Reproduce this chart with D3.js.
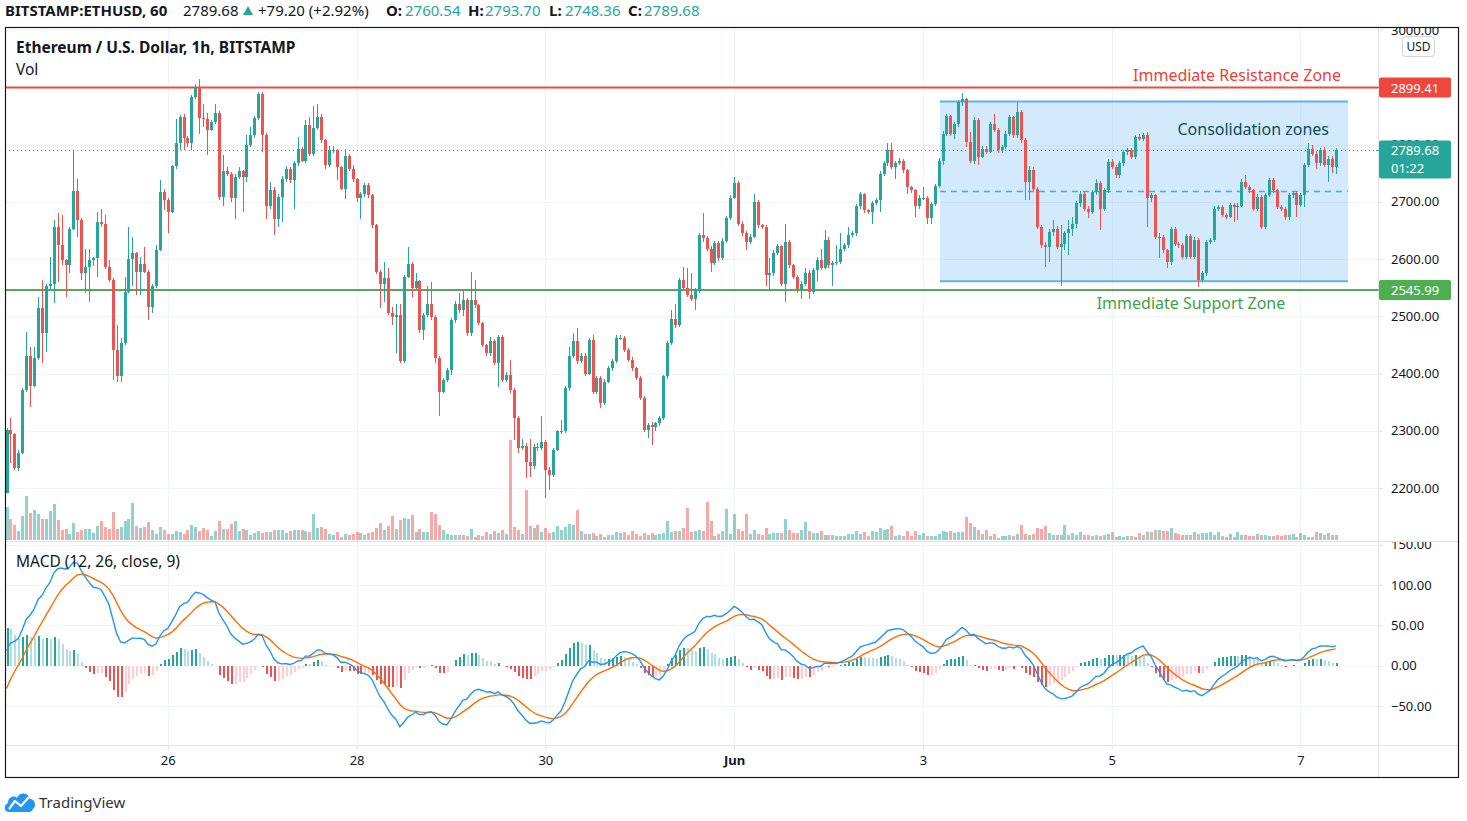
<!DOCTYPE html>
<html>
<head>
<meta charset="utf-8">
<script src="https://cdn.jsdelivr.net/npm/d3@7"></script>
<style>
  body { margin: 0; background: #fff; }
  text { font-family: "Noto Sans", sans-serif; }
</style>
</head>
<body>
<div id="chart"></div>
<script>
// ---- data ----
const symbol = "BITSTAMP:ETHUSD, 60";
const title = "Ethereum / U.S. Dollar, 1h, BITSTAMP";
const dayChange = "+79.20 (+2.92%)";
const startTime = Date.UTC(2021, 4, 24, 7);   // first hourly candle
const firstOpen = 2192;

const closes = [
  2302,2295,2235,2262,2371,2430,2378,2427,2514,2470,
  2552,2556,2656,2624,2598,2589,2652,2718,2668,2575,
  2586,2598,2601,2665,2661,2586,2563,2441,2395,2453,
  2543,2600,2611,2578,2591,2578,2517,2553,2616,2717,
  2703,2682,2762,2802,2848,2812,2802,2883,2900,2847,
  2845,2826,2839,2855,2709,2754,2749,2706,2743,2754,
  2743,2799,2816,2846,2889,2817,2692,2720,2669,2709,
  2739,2758,2738,2767,2793,2772,2834,2784,2829,2848,
  2807,2764,2790,2791,2761,2723,2780,2758,2739,2706,
  2713,2729,2711,2659,2578,2556,2566,2506,2499,2502,
  2421,2569,2592,2549,2561,2476,2502,2522,2499,2427,
  2368,2389,2406,2493,2522,2511,2528,2470,2528,2520,
  2488,2450,2435,2456,2418,2464,2389,2398,2371,2322,
  2270,2274,2246,2238,2272,2270,2281,2232,2223,2267,
  2299,2299,2374,2430,2456,2421,2430,2400,2459,2368,
  2392,2348,2386,2409,2421,2462,2462,2441,2424,2409,
  2392,2357,2302,2310,2307,2313,2322,2395,2453,2496,
  2485,2563,2549,2537,2531,2546,2642,2636,2618,2593,
  2628,2601,2632,2671,2707,2732,2662,2645,2630,2639,
  2700,2659,2656,2572,2575,2611,2622,2557,2630,2589,
  2569,2545,2557,2576,2543,2580,2599,2585,2634,2589,
  2593,2595,2618,2624,2642,2645,2692,2713,2685,2682,
  2698,2703,2749,2767,2790,2761,2768,2772,2755,2725,
  2720,2692,2707,2707,2671,2696,2727,2772,
  2819,2849,2819,2836,2874,2880,2804,2772,2843,2779,
  2793,2787,2836,2825,2790,2796,2819,2848,2816,2857,
  2807,2735,2755,2723,2656,2624,2621,2648,2653,2621,
  2627,2645,2653,2662,2697,2714,2688,2682,2717,2732,
  2688,2720,2770,2761,2746,2767,2787,2790,2778,2813,
  2810,2816,2706,2711,2639,2639,2615,2595,2652,2627,
  2624,2604,2640,2604,2634,2563,2575,2630,2633,2688,
  2691,2677,2674,2694,2691,2692,2735,2726,2720,2688,
  2709,2656,2711,2738,2720,2691,2688,2674,2711,2715,
  2694,2711,2764,2793,2784,2767,2790,2764,2775,2760.54,
  2789.68
];

const highs = [
  2305,2322,2296,2266,2374,2473,2447,2447,2534,2563,
  2556,2604,2668,2680,2677,2600,2656,2790,2740,2672,
  2618,2618,2604,2682,2688,2677,2598,2566,2485,2462,
  2569,2656,2639,2613,2604,2621,2580,2556,2624,2738,
  2723,2706,2765,2845,2851,2854,2815,2886,2906,2915,
  2871,2855,2842,2871,2858,2781,2760,2752,2748,2760,
  2756,2816,2831,2850,2892,2892,2820,2735,2725,2714,
  2745,2762,2760,2772,2813,2796,2843,2848,2868,2871,
  2854,2810,2798,2797,2793,2763,2793,2784,2764,2742,
  2717,2733,2732,2713,2662,2580,2594,2584,2516,2522,
  2522,2572,2621,2594,2575,2564,2506,2552,2560,2502,
  2430,2392,2410,2497,2526,2540,2546,2532,2578,2563,
  2522,2490,2452,2464,2460,2468,2467,2402,2424,2374,
  2325,2286,2278,2286,2276,2278,2325,2284,2236,2270,
  2302,2319,2378,2447,2470,2479,2435,2436,2462,2467,
  2396,2395,2390,2413,2425,2467,2468,2465,2444,2428,
  2411,2395,2360,2313,2316,2316,2326,2398,2457,2511,
  2522,2566,2586,2584,2575,2550,2646,2680,2640,2622,
  2632,2632,2636,2675,2711,2743,2736,2666,2649,2643,
  2714,2703,2662,2660,2601,2615,2626,2625,2662,2634,
  2592,2572,2561,2584,2580,2584,2603,2618,2650,2638,
  2597,2625,2645,2628,2656,2649,2696,2717,2716,2688,
  2702,2707,2753,2771,2802,2802,2772,2776,2775,2758,
  2728,2723,2711,2726,2710,2700,2731,2776,
  2823,2854,2851,2840,2878,2890,2882,2822,2848,2846,
  2797,2797,2840,2854,2828,2800,2823,2852,2850,2874,
  2860,2812,2762,2760,2726,2660,2630,2652,2668,2657,
  2659,2649,2668,2674,2701,2718,2718,2692,2721,2740,
  2736,2724,2774,2774,2765,2771,2791,2794,2794,2817,
  2819,2820,2822,2715,2714,2645,2642,2618,2656,2656,
  2630,2628,2644,2644,2638,2637,2579,2634,2637,2692,
  2695,2694,2680,2698,2698,2698,2739,2746,2729,2723,
  2713,2712,2715,2742,2741,2723,2694,2691,2715,2719,
  2718,2715,2768,2802,2800,2788,2794,2795,2780,2780,
  2793.70
];

const lows = [
  2191,2243,2232,2229,2260,2368,2342,2376,2424,2418,
  2438,2548,2523,2560,2590,2534,2575,2650,2639,2563,
  2540,2525,2588,2569,2656,2583,2560,2389,2386,2386,
  2450,2540,2552,2537,2537,2575,2493,2505,2550,2614,
  2685,2646,2680,2758,2790,2790,2795,2790,2880,2819,
  2830,2781,2824,2836,2703,2692,2745,2700,2669,2740,
  2682,2735,2795,2812,2843,2787,2669,2688,2642,2656,
  2665,2735,2733,2688,2762,2769,2768,2780,2780,2825,
  2802,2758,2760,2786,2738,2720,2704,2754,2735,2700,
  2669,2708,2706,2655,2573,2514,2525,2503,2485,2436,
  2418,2418,2566,2534,2545,2470,2459,2498,2494,2418,
  2326,2366,2386,2398,2488,2506,2500,2465,2466,2515,
  2484,2446,2430,2430,2414,2377,2385,2386,2366,2284,
  2262,2266,2217,2220,2234,2265,2266,2182,2197,2220,
  2265,2294,2296,2370,2427,2416,2418,2396,2398,2364,
  2365,2339,2345,2383,2405,2418,2458,2437,2420,2405,
  2388,2354,2298,2287,2275,2300,2308,2318,2390,2450,
  2480,2482,2545,2533,2527,2511,2540,2630,2614,2578,
  2590,2597,2598,2628,2668,2704,2658,2641,2616,2626,
  2636,2655,2652,2552,2548,2570,2607,2553,2525,2585,
  2565,2541,2531,2553,2531,2539,2561,2581,2582,2585,
  2552,2590,2592,2614,2620,2638,2641,2688,2681,2678,
  2662,2694,2682,2745,2763,2757,2740,2765,2751,2714,
  2716,2674,2688,2703,2662,2662,2692,2724,
  2765,2815,2815,2810,2830,2868,2795,2768,2766,2764,
  2776,2783,2785,2821,2786,2786,2793,2815,2812,2812,
  2803,2703,2703,2719,2652,2620,2586,2595,2640,2617,
  2552,2615,2607,2640,2655,2690,2684,2671,2678,2712,
  2650,2684,2716,2757,2742,2742,2762,2782,2774,2774,
  2806,2806,2656,2700,2635,2601,2611,2584,2590,2623,
  2620,2600,2600,2600,2600,2551,2560,2570,2626,2630,
  2684,2673,2670,2672,2665,2668,2690,2722,2716,2684,
  2684,2653,2653,2708,2716,2687,2684,2668,2668,2706,
  2674,2690,2690,2760,2780,2758,2763,2760,2735,2750,
  2748.36
];

// hourly volume (hundreds of ETH)
const volumes = [
  33,21,15,9,24,44,27,30,26,21, 21,29,36,20,10,11,6,17,8,10,
  11,11,7,14,19,13,11,28,11,13, 19,21,37,14,12,13,18,10,6,13,
  10,6,6,9,8,6,10,15,13,9, 12,10,4,9,19,11,11,16,19,9,
  11,10,5,7,9,7,8,8,10,10, 10,7,9,10,10,10,9,8,26,12,
  13,11,6,5,8,3,6,5,6,8, 7,5,7,8,12,17,10,14,24,11,
  20,22,21,25,8,11,8,8,28,26, 15,10,6,5,5,5,5,4,11,3,
  5,4,8,6,9,7,10,6,100,13, 10,6,50,14,12,15,8,12,7,8,
  14,10,13,16,15,30,9,6,6,7, 4,6,3,5,5,8,7,8,5,9,
  6,4,7,5,7,5,6,7,19,8, 9,9,
  12,32,8,9,10,9,38,19,4,6, 9,31,6,26,11,9,26,6,10,6,
  5,12,6,7,7,7,21,10,7,7, 10,18,9,7,7,9,5,5,5,4,
  4,4,6,6,9,6,8,4,9,8, 12,10,11,14,4,5,4,9,4,9,
  5,7,4,4,4,6,9,8,9,7, 8,8,23,17,13,10,6,10,4,6,
  2,4,4,5,4,6,15,6,5,6, 12,11,14,7,5,5,5,15,5,7,
  5,8,5,5,4,5,4,5,6,8, 3,4,3,4,4,3,7,5,8,8,
  10,10,9,9,12,7,6,5,5,5, 8,6,7,7,8,5,8,4,3,6,
  3,8,5,5,4,4,6,5,5,4, 4,5,4,5,5,6,3,7,5,3,
  3,8,7,5,7,5,5
];

const dayTicks = ["2021-05-26", "2021-05-28", "2021-05-30", "2021-06-01", "2021-06-03", "2021-06-05", "2021-06-07"];
const dayLabels = ["26", "28", "30", "Jun", "3", "5", "7"];
const priceTicks = [2200, 2300, 2400, 2500, 2600, 2700, 2800, 3000];
const macdTicks = [-50, 0, 50, 100, 150];

const resistance = 2899.41;
const support = 2545.99;
const countdown = "01:22";
const boxStart = "2021-06-03T04:20Z";
const boxEnd = "2021-06-07T12:06Z";
const boxTop = 2875;
const boxBottom = 2561;
// EMA state just before the first visible candle
const macdSeed = { ema12: 2136, ema26: 2130, signal: -40 };

// ---- layout ----
const W = 1467, H = 821;
const L = 5, R = 1378, FR = 1459;
const mainTop = 27, mainBot = 541, macdTop = 542, macdBot = 745, axisBot = 778;
const up = "#26a69a", down = "#ef5350";
const gridCol = "#f0f3fa", sepCol = "#e0e3eb", textCol = "#131722";

const times = closes.map((_, i) => new Date(startTime + i * 3600e3));
const opens = closes.map((c, i) => i === 0 ? firstOpen : closes[i - 1]);
const candles = closes.map((c, i) => ({ t: times[i], o: opens[i], h: highs[i], l: lows[i], c, v: volumes[i] }));

// MACD (12, 26, close, 9)
const macd = [], signal = [], hist = [];
{
  let e12 = macdSeed.ema12, e26 = macdSeed.ema26, sig = macdSeed.signal;
  closes.forEach(c => {
    e12 += (2 / 13) * (c - e12);
    e26 += (2 / 27) * (c - e26);
    const m = e12 - e26;
    sig += (2 / 10) * (m - sig);
    macd.push(m); signal.push(sig); hist.push(m - sig);
  });
}

const x = d3.scaleUtc()
  .domain([new Date(dayTicks[0]), new Date(dayTicks[dayTicks.length - 1])])
  .range([167.8, 1300.4]);
const y = d3.scaleLinear().domain([2200, 3000]).range([488, 30]);
const yMacd = d3.scaleLinear().domain([-50, 100]).range([706, 585]);
const yVol = d3.scaleLinear().domain([0, d3.max(volumes)]).range([540, 440]);

const svg = d3.select("#chart").append("svg")
  .attr("width", W).attr("height", H)
  .style("display", "block");

svg.append("rect").attr("width", W).attr("height", H).attr("fill", "#fff");

const defs = svg.append("defs");
defs.append("clipPath").attr("id", "clip-main")
  .append("rect").attr("x", L).attr("y", mainTop).attr("width", R - L).attr("height", mainBot - mainTop);
defs.append("clipPath").attr("id", "clip-macd")
  .append("rect").attr("x", L).attr("y", macdTop).attr("width", R - L).attr("height", macdBot - macdTop);
defs.append("clipPath").attr("id", "clip-axis-main")
  .append("rect").attr("x", R).attr("y", mainTop).attr("width", FR - R).attr("height", mainBot - mainTop);
defs.append("clipPath").attr("id", "clip-axis-macd")
  .append("rect").attr("x", R).attr("y", macdTop).attr("width", FR - R).attr("height", macdBot - macdTop);

// grid
const grid = svg.append("g").attr("shape-rendering", "crispEdges");
grid.selectAll(".gx").data(dayTicks).join("line")
  .attr("x1", d => Math.round(x(new Date(d))) + 0.5).attr("x2", d => Math.round(x(new Date(d))) + 0.5)
  .attr("y1", mainTop).attr("y2", macdBot).attr("stroke", gridCol);
grid.selectAll(".gy").data(priceTicks).join("line")
  .attr("x1", L).attr("x2", R)
  .attr("y1", d => Math.round(y(d)) + 0.5).attr("y2", d => Math.round(y(d)) + 0.5)
  .attr("stroke", gridCol);
grid.selectAll(".gm").data(macdTicks).join("line")
  .attr("x1", L).attr("x2", R)
  .attr("y1", d => Math.round(yMacd(d)) + 0.5).attr("y2", d => Math.round(yMacd(d)) + 0.5)
  .attr("stroke", gridCol);

// ---- main pane ----
const main = svg.append("g").attr("clip-path", "url(#clip-main)");

// consolidation box
const bx0 = x(new Date(boxStart)), bx1 = x(new Date(boxEnd));
main.append("rect")
  .attr("x", bx0).attr("y", y(boxTop)).attr("width", bx1 - bx0).attr("height", y(boxBottom) - y(boxTop))
  .attr("fill", "rgba(33,150,243,0.2)");
[boxTop, boxBottom].forEach(p => {
  main.append("line").attr("x1", bx0).attr("x2", bx1).attr("y1", y(p)).attr("y2", y(p))
    .attr("stroke", "#5fb0f4").attr("stroke-width", 2);
});
main.append("line").attr("x1", bx0).attr("x2", bx1)
  .attr("y1", y((boxTop + boxBottom) / 2)).attr("y2", y((boxTop + boxBottom) / 2))
  .attr("stroke", "#42a5f5").attr("stroke-width", 1.5).attr("stroke-dasharray", "6,5");

// volume
main.append("g").attr("shape-rendering", "crispEdges")
  .selectAll("rect").data(candles).join("rect")
  .attr("x", d => Math.round(x(d.t)) - 1)
  .attr("width", 3)
  .attr("y", d => yVol(d.v))
  .attr("height", d => yVol(0) - yVol(d.v))
  .attr("fill", d => d.c >= d.o ? up : down)
  .attr("fill-opacity", 0.5);

// support / resistance
main.append("line").attr("x1", L).attr("x2", R).attr("y1", y(resistance)).attr("y2", y(resistance))
  .attr("stroke", "#ef4a3f").attr("stroke-width", 2);
main.append("line").attr("x1", L).attr("x2", R).attr("y1", y(support)).attr("y2", y(support))
  .attr("stroke", "#55a858").attr("stroke-width", 2);

// last price dotted line
const last = candles[candles.length - 1];
main.append("line").attr("x1", L).attr("x2", R)
  .attr("y1", Math.round(y(last.c)) + 0.5).attr("y2", Math.round(y(last.c)) + 0.5)
  .attr("stroke", up).attr("stroke-dasharray", "1,3");

// candles
const cg = main.append("g").attr("shape-rendering", "crispEdges");
cg.selectAll("line").data(candles).join("line")
  .attr("x1", d => Math.round(x(d.t)) + 0.5).attr("x2", d => Math.round(x(d.t)) + 0.5)
  .attr("y1", d => y(d.h)).attr("y2", d => y(d.l))
  .attr("stroke", d => d.c >= d.o ? up : down);
cg.selectAll("rect").data(candles).join("rect")
  .attr("x", d => Math.round(x(d.t)) - 1)
  .attr("width", 3)
  .attr("y", d => y(Math.max(d.o, d.c)))
  .attr("height", d => Math.max(1, Math.abs(y(d.o) - y(d.c))))
  .attr("fill", d => d.c >= d.o ? up : down);

// annotations
main.append("text").attr("x", bx1 - 7).attr("y", y(resistance) - 7)
  .attr("text-anchor", "end").attr("font-size", 16).attr("fill", "#ef3e36")
  .text("Immediate Resistance Zone");
main.append("text").attr("x", bx1 - 157).attr("y", y(support) + 19)
  .attr("text-anchor", "middle").attr("font-size", 16).attr("fill", "#43a047")
  .text("Immediate Support Zone");
main.append("text").attr("x", bx1 - 19).attr("y", y(boxTop) + 33)
  .attr("text-anchor", "end").attr("font-size", 16).attr("fill", "#0e4c5a")
  .text("Consolidation zones");

// ---- MACD pane ----
const mp = svg.append("g").attr("clip-path", "url(#clip-macd)");
mp.append("g").attr("shape-rendering", "crispEdges")
  .selectAll("rect").data(hist).join("rect")
  .attr("x", (d, i) => Math.round(x(times[i])) - 0.5)
  .attr("width", 2)
  .attr("y", d => Math.min(yMacd(d), yMacd(0)))
  .attr("height", d => Math.abs(yMacd(d) - yMacd(0)))
  .attr("fill", (d, i) => {
    const prev = i > 0 ? hist[i - 1] : d;
    if (d >= 0) return d >= prev ? "#26a69a" : "#b2dfdb";
    return d < prev ? "#ef5350" : "#ffcdd2";
  });

const lineGen = d3.line().x((d, i) => x(times[i])).y(d => yMacd(d));
mp.append("path").attr("d", lineGen(signal)).attr("fill", "none")
  .attr("stroke", "#ff6d00").attr("stroke-width", 1.4);
mp.append("path").attr("d", lineGen(macd)).attr("fill", "none")
  .attr("stroke", "#2196f3").attr("stroke-width", 1.4);

// ---- separators & frame ----
const sep = svg.append("g").attr("shape-rendering", "crispEdges").attr("stroke", sepCol);
sep.append("line").attr("x1", L).attr("x2", FR).attr("y1", mainBot + 0.5).attr("y2", mainBot + 0.5);
sep.append("line").attr("x1", L).attr("x2", FR).attr("y1", macdBot + 0.5).attr("y2", macdBot + 0.5);
sep.append("line").attr("x1", R + 0.5).attr("x2", R + 0.5).attr("y1", mainTop).attr("y2", axisBot);

// ---- axes ----
const styleAxis = g => {
  g.select(".domain").remove();
  g.selectAll(".tick line").attr("stroke", sepCol);
  g.selectAll(".tick text").attr("fill", textCol).attr("font-size", 13)
    .attr("font-family", "'Noto Sans', sans-serif");
};

svg.append("g").attr("clip-path", "url(#clip-axis-main)")
  .append("g").attr("transform", `translate(${R},0)`)
  .call(d3.axisRight(y).tickValues(priceTicks).tickSize(5).tickPadding(8).tickFormat(d3.format(".2f")))
  .call(styleAxis);

svg.append("g").attr("clip-path", "url(#clip-axis-macd)")
  .append("g").attr("transform", `translate(${R},0)`)
  .call(d3.axisRight(yMacd).tickValues(macdTicks).tickSize(5).tickPadding(8)
    .tickFormat(d => d3.format(".2f")(d).replace("-", "\u2212")))
  .call(styleAxis);

const xAxis = svg.append("g").attr("transform", `translate(0,${macdBot})`)
  .call(d3.axisBottom(x).tickValues(dayTicks.map(d => new Date(d))).tickSize(5).tickPadding(6)
    .tickFormat((d, i) => dayLabels[i]))
  .call(styleAxis);
xAxis.selectAll(".tick text")
  .attr("font-weight", (d, i) => dayLabels[i] === "Jun" ? "bold" : null);

// USD badge
svg.append("rect").attr("x", 1402.5).attr("y", 36.5).attr("width", 32).attr("height", 20).attr("rx", 3)
  .attr("fill", "#fff").attr("stroke", "#d1d4dc");
svg.append("text").attr("x", 1418.5).attr("y", 51).attr("text-anchor", "middle")
  .attr("font-size", 12).attr("fill", textCol).text("USD");

// price labels on the axis
const priceTag = (price, color, lines) => {
  const cy = y(price);
  const h = lines.length > 1 ? 38 : 20;
  const top = cy - 10;
  svg.append("rect").attr("x", R + 1).attr("y", top).attr("width", 72).attr("height", h).attr("rx", 2)
    .attr("fill", color);
  svg.append("line").attr("x1", R - 2).attr("x2", R + 6).attr("y1", cy).attr("y2", cy)
    .attr("stroke", color).attr("stroke-width", 1);
  lines.forEach((t, i) => {
    svg.append("text").attr("x", R + 13).attr("y", cy + 5 + i * 18)
      .attr("font-size", 13).attr("fill", "#fff").text(t);
  });
};
priceTag(resistance, "#f0473c", [resistance.toFixed(2)]);
priceTag(last.c, up, [last.c.toFixed(2), countdown]);
priceTag(support, "#4caf50", [support.toFixed(2)]);

// outer frame
svg.append("rect").attr("x", L + 0.5).attr("y", mainTop + 0.5)
  .attr("width", FR - L - 1).attr("height", axisBot - mainTop - 1)
  .attr("fill", "none").attr("stroke", "#1a1a1a").attr("stroke-width", 1.2);

// ---- header ----
const header = svg.append("g").attr("font-size", 15);
const hdr = (xx, t, opts = {}) => header.append("text").attr("x", xx).attr("y", 16)
  .attr("fill", opts.color || textCol).attr("font-weight", opts.bold ? "bold" : null).text(t);
hdr(5, symbol, { bold: true });
hdr(183, last.c.toFixed(2));
header.append("path").attr("d", "M243,15 L248,6 L253,15 Z").attr("fill", up);
hdr(258, dayChange);
const ohlc = [["O:", last.o, 386, 405], ["H:", last.h, 468, 485], ["L:", last.l, 549, 565], ["C:", last.c, 628, 644]];
ohlc.forEach(([k, v, kx, vx]) => {
  hdr(kx, k, { bold: true });
  hdr(vx, v.toFixed(2), { color: up });
});

svg.append("text").attr("x", 16).attr("y", 53).attr("font-size", 15.5).attr("font-weight", "bold")
  .attr("fill", textCol).text(title);
svg.append("text").attr("x", 16).attr("y", 75).attr("font-size", 15.5).attr("fill", textCol).text("Vol");
svg.append("text").attr("x", 16).attr("y", 567).attr("font-size", 15.5).attr("fill", textCol)
  .text("MACD (12, 26, close, 9)");

// TradingView logo
const logo = svg.append("g");
logo.append("path")
  .attr("d", "M9,812 C4,812 3,805 8,803 C8,797 14,795 17,798 C19,792 28,792 30,799 C35,799 37,806 33,809 C32,811 31,812 29,812 Z")
  .attr("fill", "#2196f3");
logo.append("polyline").attr("points", "9,809 15,801 21,806 29,797")
  .attr("fill", "none").attr("stroke", "#fff").attr("stroke-width", 2.2).attr("stroke-linejoin", "round");
svg.append("text").attr("x", 39).attr("y", 808).attr("font-size", 15).attr("fill", "#333").text("TradingView");
</script>
</body>
</html>
